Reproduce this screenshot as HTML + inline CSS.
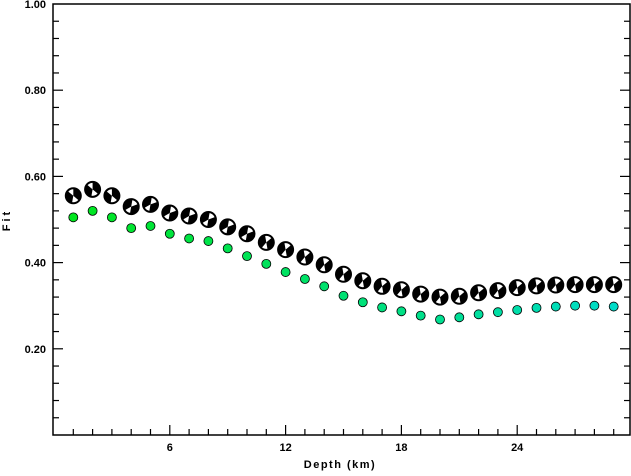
<!DOCTYPE html>
<html><head><meta charset="utf-8"><style>
body{margin:0;background:#fff}
svg text{font-family:"Liberation Sans",sans-serif;font-weight:bold;font-size:11px;fill:#000}
</style></head><body>
<svg id="c" width="631" height="471" xmlns="http://www.w3.org/2000/svg">
<rect x="53" y="4" width="577" height="431" fill="none" stroke="#000" stroke-width="1.5"/>
<g id="ticks"></g>
<text x="340" y="468" text-anchor="middle" letter-spacing="1.5">Depth (km)</text>
<text transform="translate(10,220) rotate(-90)" text-anchor="middle" letter-spacing="3">Fit</text>
<g id="marks"></g>
</svg>
<script>
const depths=[1,2,3,4,5,6,7,8,9,10,11,12,13,14,15,16,17,18,19,20,21,22,23,24,25,26,27,28,29];
const mechFit=[0.555,0.57,0.555,0.53,0.535,0.515,0.508,0.50,0.483,0.467,0.447,0.43,0.413,0.395,0.373,0.358,0.345,0.337,0.327,0.32,0.322,0.33,0.335,0.342,0.346,0.348,0.349,0.349,0.349];
const dotFit=[0.505,0.52,0.505,0.48,0.485,0.467,0.456,0.45,0.433,0.415,0.397,0.378,0.362,0.345,0.323,0.308,0.296,0.287,0.277,0.268,0.273,0.28,0.285,0.29,0.295,0.298,0.3,0.3,0.298];
const xTickLabels=[6,12,18,24];
const yTickLabels=["0.20","0.40","0.60","0.80","1.00"];
const NS="http://www.w3.org/2000/svg";
const X=d=>54+19.3*d, Y=v=>435-431*v;
function mk(t,a,p){const e=document.createElementNS(NS,t);for(const k in a)e.setAttribute(k,a[k]);p.appendChild(e);return e;}
const tk=document.getElementById('ticks'), mg=document.getElementById('marks');
for(let d=1;d<=29;d++){const big=d%6==0;
 const l=mk('line',{x1:X(d),x2:X(d),y1:435,y2:435-(big?10:6),stroke:'#000','stroke-width':1.2},tk);
 
 }
for(let i=1;i<25;i++){const v=i*0.04;const big=i%5==0;
 [[53,1],[630,-1]].forEach(([x,s])=>{const l=mk('line',{x1:x,x2:x+s*(big?10:6),y1:Y(v),y2:Y(v),stroke:'#000','stroke-width':1.2},tk);
 
 });}
xTickLabels.forEach(d=>{const t=mk('text',{x:X(d),y:451,'text-anchor':'middle'},tk);t.textContent=d;
 
 });
yTickLabels.forEach(s=>{const t=mk('text',{x:46,y:Y(+s)+4,'text-anchor':'end'},tk);t.textContent=s;
 
 });
function arc(cx,cy,r,a0,a1){const p=a=>[cx+r*Math.cos(a*Math.PI/180),cy+r*Math.sin(a*Math.PI/180)];const [x0,y0]=p(a0),[x1,y1]=p(a1);
 return `M${cx},${cy}L${x0},${y0}A${r},${r} 0 ${(a1-a0)>180?1:0} 1 ${x1},${y1}Z`;}
depths.forEach((d,i)=>{
 const cx=X(d),cy=Y(dotFit[i]),f=i/(depths.length-1);
 const c=mk('circle',{cx:cx,cy:cy,r:4.5,fill:`rgb(0,${Math.round(230-10*f)},${Math.round(30+170*f)})`,stroke:'#000','stroke-width':0.8},mg);
 
 
 const g=mk('g',{},mg);
 
 
 const bx=X(d),by=Y(mechFit[i]),r=7.5,rot=i<3?100:(i<10?-20:-40);
 mk('circle',{cx:bx,cy:by,r:r,fill:'#fff'},g);
 mk('path',{d:arc(bx,by,r,rot,rot+120),fill:'#000'},g);
 mk('path',{d:arc(bx,by,r,rot+170,rot+300),fill:'#000'},g);
 mk('circle',{cx:bx,cy:by,r:r,fill:'none',stroke:'#000','stroke-width':2},g);
});
</script>
</body></html>
